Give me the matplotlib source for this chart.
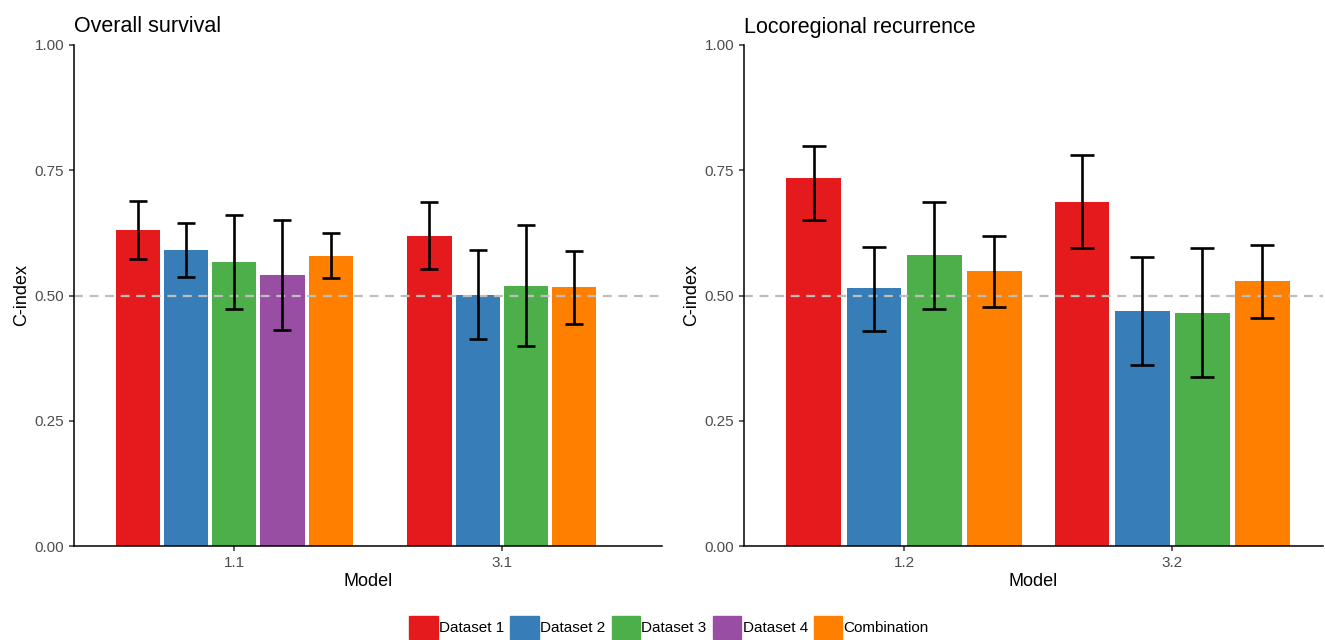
import numpy as np
import matplotlib.pyplot as plt
from matplotlib.patches import Patch

plt.rcParams['font.family'] = ['Liberation Sans', 'DejaVu Sans']

datasets = ["Dataset 1", "Dataset 2", "Dataset 3", "Dataset 4", "Combination"]
colors = ["#E41A1C", "#377EB8", "#4DAF4A", "#984EA3", "#FF7F00"]

# overall survival, models 1.1 and 3.1 (nan = not available)
os_models = ["1.1", "3.1"]
os_cindex = [[0.631, 0.619], [0.591, 0.501], [0.567, 0.519], [0.541, np.nan], [0.579, 0.517]]
os_lower = [[0.572, 0.552], [0.536, 0.413], [0.474, 0.400], [0.432, np.nan], [0.534, 0.444]]
os_upper = [[0.689, 0.686], [0.645, 0.590], [0.661, 0.641], [0.650, np.nan], [0.625, 0.589]]

# locoregional recurrence, models 1.2 and 3.2
lr_models = ["1.2", "3.2"]
lr_cindex = [[0.735, 0.687], [0.515, 0.469], [0.581, 0.465], [np.nan, np.nan], [0.549, 0.529]]
lr_lower = [[0.650, 0.594], [0.430, 0.361], [0.474, 0.337], [np.nan, np.nan], [0.478, 0.455]]
lr_upper = [[0.799, 0.781], [0.597, 0.577], [0.687, 0.594], [np.nan, np.nan], [0.618, 0.600]]


def panel(ax, title, models, cidx, lo, hi, step, width, cap, xlim):
    cidx = np.array(cidx); lo = np.array(lo); hi = np.array(hi)
    ax.axhline(0.5, color="#BEBEBE", lw=1.6, ls=(0, (4, 3)), zorder=2)
    for j in range(len(models)):
        present = [i for i in range(len(datasets)) if not np.isnan(cidx[i, j])]
        n = len(present)
        for k, i in enumerate(present):
            x = j + 1 + (k - (n - 1) / 2) * step
            ax.bar(x, cidx[i, j], width=width, color=colors[i], zorder=1)
            ax.errorbar(x, cidx[i, j], yerr=[[cidx[i, j] - lo[i, j]], [hi[i, j] - cidx[i, j]]],
                        fmt="none", ecolor="black", elinewidth=1.9, capsize=cap,
                        capthick=1.9, zorder=3)
    ax.set_xticks([1, 2])
    ax.set_xticklabels(models)
    ax.set_xlim(*xlim)
    ax.set_ylim(0, 1)
    ax.set_yticks([0, 0.25, 0.5, 0.75, 1.0])
    ax.set_yticklabels(["0.00", "0.25", "0.50", "0.75", "1.00"])
    for s in ["top", "right"]:
        ax.spines[s].set_visible(False)
    for s in ["left", "bottom"]:
        ax.spines[s].set_linewidth(1.1)
    ax.tick_params(length=3.5, width=1.1, color="#333333", labelcolor="#4D4D4D", labelsize=11)
    ax.set_xlabel("Model", fontsize=13, labelpad=2)
    ax.set_ylabel("C-index", fontsize=13, labelpad=3)
    ax.set_title(title, loc="left", fontsize=15.5, pad=9)


fig = plt.figure(figsize=(13.25, 6.4), dpi=100)
ax1 = fig.add_axes([74 / 1325, 94 / 640, 588 / 1325, 501 / 640])
ax2 = fig.add_axes([744 / 1325, 94 / 640, 579 / 1325, 501 / 640])

panel(ax1, "Overall survival", os_models, os_cindex, os_lower, os_upper,
      0.18, 0.165, 6.5, (0.4, 2.6))
panel(ax2, "Locoregional recurrence", lr_models, lr_cindex, lr_lower, lr_upper,
      0.224, 0.205, 8.3, (0.403, 2.563))

handles = [Patch(color=c) for c in colors]
fig.legend(handles, datasets, loc="center", bbox_to_anchor=(0.505, 0.02), ncol=5,
           frameon=False, fontsize=11, handlelength=1.85, handleheight=1.9,
           handletextpad=0.1, columnspacing=0.4, borderpad=0)

fig.savefig("out.png", dpi=100)
